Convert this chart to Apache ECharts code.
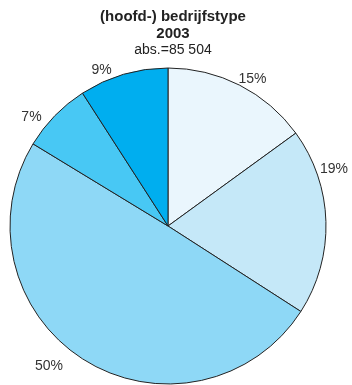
<!DOCTYPE html>
<html><head><meta charset="utf-8">
<script src="https://cdn.jsdelivr.net/npm/echarts@6/dist/echarts.min.js"></script>
<style>html,body{margin:0;padding:0;background:#fff}#c{width:352px;height:385px}</style>
</head><body><div id="c"></div>
<script>
var categories = ['A', 'B', 'C', 'D', 'E'];
var values = [15.0, 19.1, 49.6, 7.2, 9.1];
var colors = ['#EAF6FD', '#C5E8F8', '#8ED8F6', '#48C8F4', '#00AEEF'];
var titleLines = ['(hoofd-) bedrijfstype', '2003', 'abs.=85 504'];

var labelShift = [[-9, -1], [-17, -52], [-13, 1], [-4, 6], [-5, 1]];

var chart = echarts.init(document.getElementById('c'), null, {renderer: 'canvas'});
var data = categories.map(function (c, i) {
  return {name: c, value: values[i], itemStyle: {color: colors[i]}};
});
chart.setOption({
  animation: false,
  title: {
    text: titleLines[0] + '\n' + titleLines[1],
    subtext: titleLines[2],
    left: 168, top: 3, textAlign: 'center', itemGap: 0,
    textStyle: {fontFamily: 'Liberation Sans', fontSize: 15, fontWeight: 'bold', color: '#222', lineHeight: 17},
    subtextStyle: {fontFamily: 'Liberation Sans', fontSize: 14, color: '#222', lineHeight: 16}
  },
  series: [{
    type: 'pie',
    center: [168, 226],
    radius: 158,
    startAngle: 90,
    clockwise: true,
    avoidLabelOverlap: false,
    data: data,
    itemStyle: {borderColor: '#222', borderWidth: 1},
    emphasis: {disabled: true},
    label: {
      show: true, position: 'outside',
      fontFamily: 'Liberation Sans', fontSize: 14, color: '#333',
      formatter: function (p) { return Math.round(p.value) + '%'; }
    },
    labelLine: {show: false, length: 6, length2: 0},
    labelLayout: function (p) {
      var s = labelShift[p.dataIndex];
      return {dx: s[0], dy: s[1]};
    }
  }]
});
</script></body></html>
